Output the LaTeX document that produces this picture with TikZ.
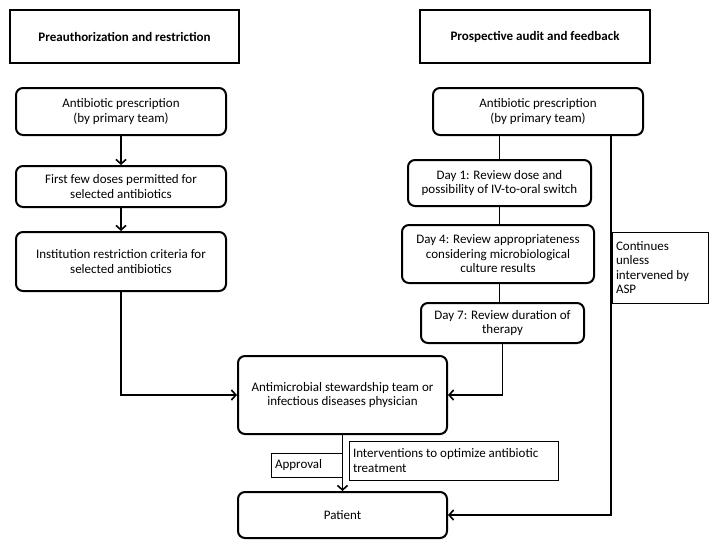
\documentclass[tikz,border=0pt]{standalone}
\usepackage{fontspec}
\setmainfont{Carlito}
\usetikzlibrary{arrows.meta}
\begin{document}
\begin{tikzpicture}[
  x=1pt, y=-1pt,
  font=\fontsize{13}{14.5}\selectfont,
  head/.style={draw, line width=2.2pt, font=\fontsize{13}{14.5}\selectfont\bfseries, minimum height=53pt},
  box/.style={draw, line width=2pt, rounded corners=7pt, align=center},
  note/.style={draw, line width=0.9pt, align=flush left, inner sep=4pt},
  arr/.style={-{Straight Barb[length=4.5pt,width=10pt,line width=1.6pt]}, line width=1.4pt},
  ln/.style={line width=1.4pt}
]
\useasboundingbox (0,0) rectangle (716,550);
\node[head, minimum width=229pt] (hl) at (124.5,36.5) {Preauthorization and restriction};
\node[head, minimum width=230pt] (hr) at (535,36.5) {Prospective audit and feedback};
\node[box, minimum width=210pt, minimum height=47pt] (lp1) at (121,111.5) {Antibiotic prescription\\(by primary team)};
\node[box, minimum width=210pt, minimum height=41pt] (lp2) at (121,186.5) {First few doses permitted for\\selected antibiotics};
\node[box, minimum width=210pt, minimum height=59pt] (lp3) at (121,261.5) {Institution restriction criteria for\\selected antibiotics};
\node[box, minimum width=210pt, minimum height=47pt] (rp1) at (538,111.5) {Antibiotic prescription\\(by primary team)};
\node[box, minimum width=183pt, minimum height=46pt] (d1) at (499.5,183) {Day 1: Review dose and\\possibility of IV-to-oral switch};
\node[box, minimum width=192pt, minimum height=58pt] (d4) at (498,254) {Day 4: Review appropriateness\\considering microbiological\\culture results};
\node[box, minimum width=163pt, minimum height=40pt] (d7) at (502.5,323) {Day 7: Review duration of\\therapy};
\node[box, minimum width=209pt, minimum height=78pt] (asp) at (342.5,395) {Antimicrobial stewardship team or\\infectious diseases physician};
\node[box, minimum width=209pt, minimum height=46pt] (pat) at (342.5,515) {Patient};
\node[note, text width=88pt, minimum height=71pt] (cont) at (660,267.5) {Continues\\unless\\intervened by\\ASP};
\node[note, text width=63pt, minimum height=24pt] (appr) at (306.5,465) {Approval};
\node[note, text width=201pt, minimum height=39pt] (intv) at (453.5,460.5) {Interventions to optimize antibiotic\\treatment};
\coordinate (side) at (611,135);
\draw[arr] (lp1) -- (lp2);
\draw[arr] (lp2) -- (lp3);
\draw[arr] (lp3) |- (asp);
\draw[ln] (d1.north |- rp1.south) -- (d1.north);
\draw[ln] (d1.south) -- (d1.south |- d4.north);
\draw[ln] (d1.south |- d4.south) -- (d1.south |- d7.north);
\draw[arr] (d7) |- (asp);
\draw[arr] (asp) -- (pat);
\draw[arr] (side) |- (pat);
\end{tikzpicture}
\end{document}
